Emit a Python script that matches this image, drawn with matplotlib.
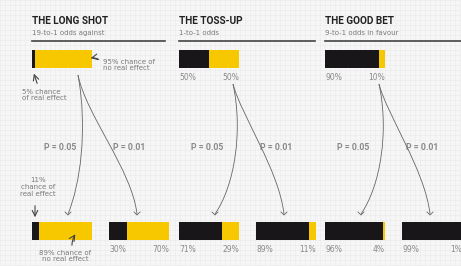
import matplotlib.pyplot as plt
from matplotlib.patches import PathPatch
from matplotlib.path import Path

# データ
titles = ['THE LONG SHOT', 'THE TOSS-UP', 'THE GOOD BET']
subtitles = ['19-to-1 odds against', '1-to-1 odds', '9-to-1 odds in favour']
prior_real = [5, 50, 90]
prior_null = [95, 50, 10]
p05_real = [11, 71, 96]
p05_null = [89, 29, 4]
p01_real = [30, 89, 99]
p01_null = [70, 11, 1]
p_labels = ['P = 0.05', 'P = 0.01']

YELLOW = '#f7c800'
BLACK = '#19161a'
GRAY = '#7a7a7a'
scale = 0.6  # 1% -> px

fig = plt.figure(figsize=(4.61, 2.66), dpi=100)
fig.patch.set_facecolor('#f6f6f6')
ax = fig.add_axes([0, 0, 1, 1])
ax.set_xlim(0, 461)
ax.set_ylim(266, 0)
ax.axis('off')

# 方眼紙の背景
for g in range(0, 462, 5):
    ax.axvline(g, color='#ebebeb', lw=0.4, zorder=0)
for g in range(0, 267, 5):
    ax.axhline(g, color='#ebebeb', lw=0.4, zorder=0)

panel_x = [32, 179, 325]
right_x = [109, 256, 402]
rule_end = [165, 315, 461]
top_y, bot_y, bar_h = 59, 231, 18


def stacked(x0, y, real, null):
    ax.barh(y, real * scale, left=x0, height=bar_h, color=BLACK, zorder=3)
    ax.barh(y, null * scale, left=x0 + real * scale, height=bar_h, color=YELLOW, zorder=3)


def curve(verts):
    codes = [Path.MOVETO, Path.CURVE4, Path.CURVE4, Path.CURVE4]
    ax.add_patch(PathPatch(Path(verts, codes), fill=False, edgecolor='#666666', lw=0.6, zorder=4))


def chevron(x, y):
    ax.plot([x - 3, x, x + 3], [y - 3, y, y - 3], color='#666666', lw=0.6, zorder=4)


tfont = dict(family='Roboto', fontweight='bold')
pct = dict(fontsize=5.5, color='#8a8a8a', va='center')

for i in range(3):
    x0 = panel_x[i]
    ax.text(x0, 21, titles[i], fontsize=7.2, color='#222222', va='center', ha='left', **tfont)
    ax.text(x0, 33, subtitles[i], fontsize=5, color=GRAY, va='center', ha='left')
    ax.plot([x0, rule_end[i]], [41, 41], color='#444444', lw=1.2)

    stacked(x0, top_y, prior_real[i], prior_null[i])
    stacked(x0, bot_y, p05_real[i], p05_null[i])
    stacked(right_x[i], bot_y, p01_real[i], p01_null[i])

    if i > 0:
        ax.text(x0, 78, f'{prior_real[i]}%', ha='left', **pct)
        ax.text(x0 + 60, 78, f'{prior_null[i]}%', ha='right', **pct)
        ax.text(x0, 250, f'{p05_real[i]}%', ha='left', **pct)
        ax.text(x0 + 60, 250, f'{p05_null[i]}%', ha='right', **pct)
    ax.text(right_x[i], 250, f'{p01_real[i]}%', ha='left', **pct)
    ax.text(right_x[i] + 60, 250, f'{p01_null[i]}%', ha='right', **pct)

    # 曲線の矢印
    sx = x0 + 46 if i == 0 else x0 + 54
    sy = 75 if i == 0 else 84
    ex1 = x0 + 36
    ex2 = right_x[i] + 28
    curve([(sx, sy), (sx + 10, 130), (sx + 2, 185), (ex1, 214)])
    curve([(sx, sy), (sx + 8, 115), (ex2 - 5, 170), (ex2, 214)])
    chevron(ex1, 215)
    chevron(ex2, 215)

    ax.text(x0 + 28, 147, p_labels[0], fontsize=6.3, color='#8a8a8a', va='center', ha='center', **tfont)
    ax.text(right_x[i] + 20, 147, p_labels[1], fontsize=6.3, color='#8a8a8a', va='center', ha='center', **tfont)

# 注釈
ann = dict(fontsize=5, color=GRAY, va='center', linespacing=1.1)
ax.text(103, 65, '95% chance of\nno real effect', ha='left', **ann)
ax.annotate('', xy=(88, 59), xytext=(101, 61),
            arrowprops=dict(arrowstyle='->', color='#444444', lw=0.8, connectionstyle='arc3,rad=0.3'))
ax.text(22, 95, '5% chance\nof real effect', ha='left', **ann)
ax.annotate('', xy=(33, 71), xytext=(38, 86),
            arrowprops=dict(arrowstyle='->', color='#444444', lw=0.8))
ax.text(38, 187, '11%\nchance of\nreal effect', ha='center', **ann)
ax.annotate('', xy=(35, 220), xytext=(35, 203),
            arrowprops=dict(arrowstyle='->', color='#444444', lw=0.8))
ax.text(65, 256, '89% chance of\nno real effect', ha='center', **ann)
ax.annotate('', xy=(77, 232), xytext=(72, 248),
            arrowprops=dict(arrowstyle='->', color='#444444', lw=0.8, connectionstyle='arc3,rad=-0.2'))

fig.savefig('out.png', dpi=100, facecolor=fig.get_facecolor())
